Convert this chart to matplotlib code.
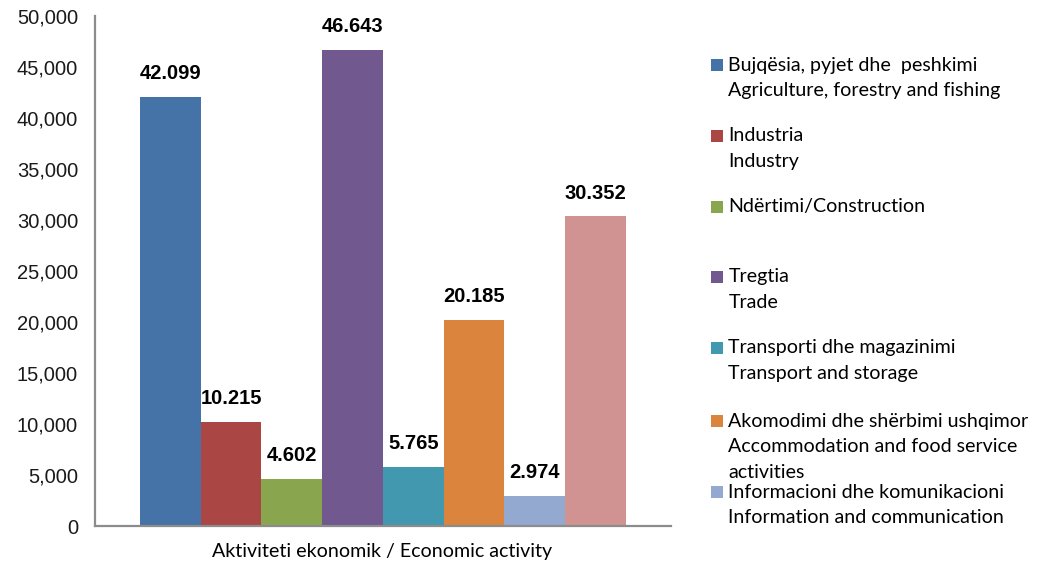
import matplotlib
matplotlib.use("Agg")
import matplotlib.pyplot as plt
from matplotlib.patches import Rectangle
from matplotlib.ticker import FuncFormatter

# ---- data ----
categories = [
    "Bujqësia, pyjet dhe  peshkimi\nAgriculture, forestry and fishing",
    "Industria\nIndustry",
    "Ndërtimi/Construction",
    "Tregtia\nTrade",
    "Transporti dhe magazinimi\nTransport and storage",
    "Akomodimi dhe shërbimi ushqimor\nAccommodation and food service\nactivities",
    "Informacioni dhe komunikacioni\nInformation and communication",
    "",
]
values = [42099, 10215, 4602, 46643, 5765, 20185, 2974, 30352]
colors = ["#4572A7", "#AA4643", "#89A54E", "#71588F",
          "#4198AF", "#DB843D", "#93A9CF", "#D19392"]
yticks = [0, 5000, 10000, 15000, 20000, 25000, 30000, 35000, 40000, 45000, 50000]
xlabel = "Aktiviteti ekonomik / Economic activity"

W, H = 1037, 566
fig = plt.figure(figsize=(W / 100, H / 100), dpi=100)
ax = fig.add_axes([94.7 / W, 1 - 526 / H, (671 - 94.7) / W, (526 - 16) / H])

x = list(range(len(values)))
bars = ax.bar(x, values, width=1.0, color=colors, linewidth=0)

for b, v in zip(bars, values):
    ax.annotate(f"{v:,}".replace(",", "."),
                (b.get_x() + b.get_width() / 2, b.get_height()),
                xytext=(0, 10), textcoords="offset points",
                ha="center", va="bottom", fontsize=14.5, fontweight="bold",
                family="Liberation Sans", color="#000000")

ax.set_xlim(-1.246, 8.246)
ax.set_ylim(0, 50000)
ax.set_yticks(yticks)
ax.yaxis.set_major_formatter(FuncFormatter(lambda v, p: f"{int(v):,}"))
ax.set_xticks([])
ax.tick_params(axis="y", length=0, pad=12, labelsize=14.5, labelcolor="#1a1a1a")
for lab in ax.get_yticklabels():
    lab.set_family("Liberation Sans")
for s in ["top", "right"]:
    ax.spines[s].set_visible(False)
for s in ["left", "bottom"]:
    ax.spines[s].set_color("#8c8c8c")
    ax.spines[s].set_linewidth(1.6)

fig.text(382 / W, 1 - 551 / H, xlabel, ha="center", va="center",
         fontsize=14.1, family="Lato", color="#000000")

# ---- legend (manual) ----
first_line_y = [65, 136, 207, 277, 348, 421, 492]
line_gap = 25.8
sq = 11.5
for cat, col, y0 in zip(categories, colors, first_line_y):
    fig.patches.append(Rectangle(((711) / W, 1 - (y0 + sq / 2) / H), sq / W, sq / H,
                                 transform=fig.transFigure, color=col, linewidth=0))
    for i, line in enumerate(cat.split("\n")):
        fig.text(728.5 / W, 1 - (y0 + i * line_gap) / H, line, ha="left", va="center",
                 fontsize=14.1, family="Lato", color="#000000")

fig.savefig("out.png", dpi=100)
